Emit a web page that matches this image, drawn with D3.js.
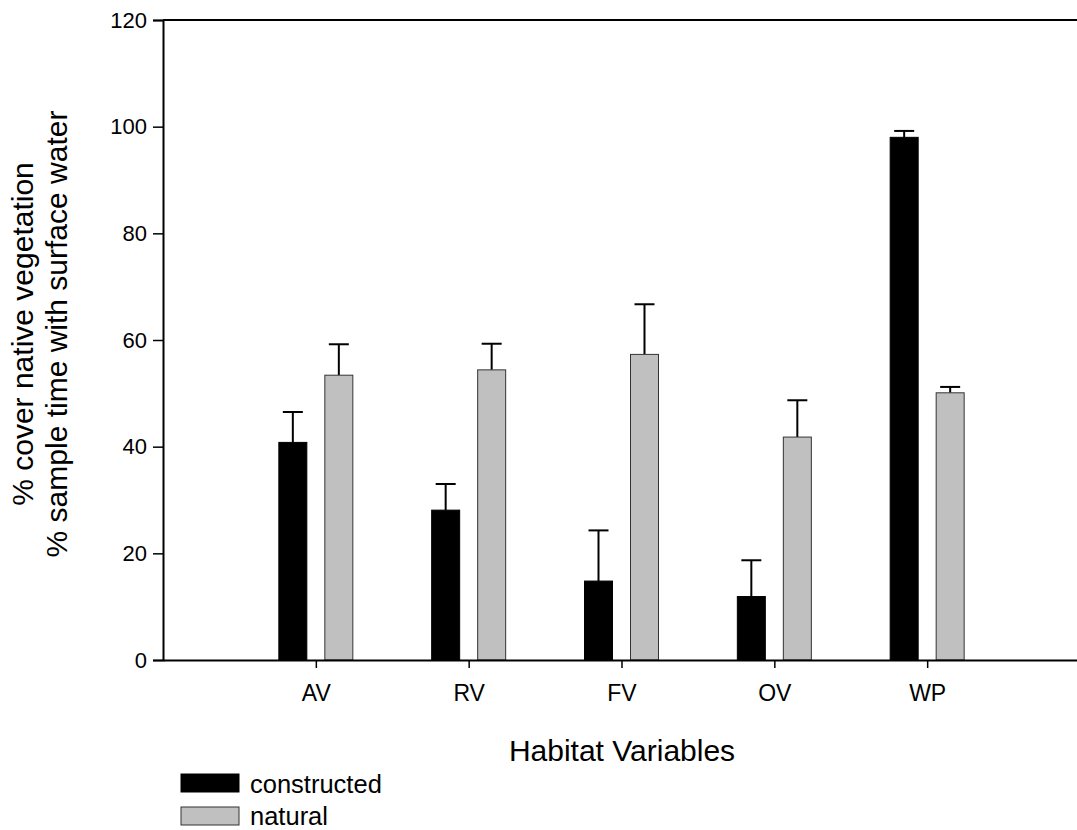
<!DOCTYPE html>
<html>
<head>
<meta charset="utf-8">
<script src="https://cdn.jsdelivr.net/npm/d3@7"></script>
<style>
  body { margin: 0; background: #fff; }
  text { font-family: "Liberation Sans", Arial, sans-serif; fill: #000; }
</style>
</head>
<body>
<div id="chart"></div>
<script>
// Data
const categories = ["AV", "RV", "FV", "OV", "WP"];
const constructed = [40.8, 28.1, 14.8, 11.9, 98.0];
const constructedErr = [5.7, 4.9, 9.5, 6.8, 1.2];
const natural = [53.4, 54.4, 57.3, 41.8, 50.1];
const naturalErr = [5.8, 4.9, 9.4, 6.9, 1.1];
const yTicks = [0, 20, 40, 60, 80, 100, 120];

const width = 1077, height = 830;
const margin = { left: 163, right: -3, top: 20, bottom: 170 };

const svg = d3.select("#chart")
  .append("svg")
  .attr("width", width)
  .attr("height", height);

// x positions: categories sit at 1..5 on a 0..6 axis
const x = d3.scaleLinear()
  .domain([0, 6])
  .range([margin.left, width - margin.right]);

const y = d3.scaleLinear()
  .domain([0, 120])
  .range([height - margin.bottom, margin.top]);

const barW = 28, offset = 23, capW = 20;

const series = [
  { name: "constructed", values: constructed, err: constructedErr, fill: "#000", stroke: "#000", dx: -offset },
  { name: "natural", values: natural, err: naturalErr, fill: "#c0c0c0", stroke: "#333", dx: offset }
];

// Error bars (upward only), drawn under the bars
series.forEach(s => {
  const g = svg.append("g");
  categories.forEach((c, i) => {
    const cx = x(i + 1) + s.dx;
    g.append("line")
      .attr("x1", cx).attr("x2", cx)
      .attr("y1", y(s.values[i])).attr("y2", y(s.values[i] + s.err[i]))
      .attr("stroke", "#000").attr("stroke-width", 2);
    g.append("line")
      .attr("x1", cx - capW / 2).attr("x2", cx + capW / 2)
      .attr("y1", y(s.values[i] + s.err[i])).attr("y2", y(s.values[i] + s.err[i]))
      .attr("stroke", "#000").attr("stroke-width", 2);
  });
});

// Bars
series.forEach(s => {
  svg.append("g")
    .selectAll("rect")
    .data(s.values)
    .join("rect")
    .attr("x", (d, i) => x(i + 1) + s.dx - barW / 2)
    .attr("y", d => y(d))
    .attr("width", barW)
    .attr("height", d => y(0) - y(d))
    .attr("fill", s.fill)
    .attr("stroke", s.stroke)
    .attr("stroke-width", 1);
});

// Y axis
const yAxis = svg.append("g")
  .attr("transform", `translate(${margin.left},0)`)
  .call(d3.axisLeft(y).tickValues(yTicks).tickSize(10).tickPadding(6));
yAxis.attr("font-family", null).attr("font-size", null);
yAxis.select(".domain").attr("stroke-width", 2);
yAxis.selectAll(".tick line").attr("stroke-width", 1.5);
yAxis.selectAll(".tick text").style("font-size", "22px");

// X axis
const xAxis = svg.append("g")
  .attr("transform", `translate(0,${y(0)})`)
  .call(d3.axisBottom(x).tickValues(d3.range(1, 6)).tickFormat(i => categories[i - 1]).tickSize(8).tickPadding(17).tickSizeOuter(0));
xAxis.attr("font-family", null).attr("font-size", null);
xAxis.select(".domain").attr("stroke-width", 2);
xAxis.selectAll(".tick line").attr("stroke-width", 1.5);
xAxis.selectAll(".tick text").style("font-size", "23px");

// top line of the frame
svg.append("line")
  .attr("x1", x(0)).attr("x2", x(6))
  .attr("y1", y(120)).attr("y2", y(120))
  .attr("stroke", "#000").attr("stroke-width", 2);

// Axis titles
svg.append("text")
  .attr("x", 622)
  .attr("y", 761)
  .attr("text-anchor", "middle")
  .style("font-size", "30px")
  .text("Habitat Variables");

const yTitle = svg.append("text")
  .attr("transform", `translate(0,334) rotate(-90)`)
  .attr("text-anchor", "middle")
  .style("font-size", "30px");
yTitle.append("tspan").attr("x", 0).attr("y", 33).text("% cover native vegetation");
yTitle.append("tspan").attr("x", 0).attr("y", 67).text("% sample time with surface water");

// Legend
const legend = svg.append("g");
series.forEach((s, i) => {
  legend.append("rect")
    .attr("x", 181).attr("y", 774 + i * 33)
    .attr("width", 58).attr("height", 18)
    .attr("fill", s.fill).attr("stroke", s.stroke);
  legend.append("text")
    .attr("x", 250).attr("y", 793 + i * 32)
    .style("font-size", "25.5px")
    .text(s.name);
});
</script>
</body>
</html>
